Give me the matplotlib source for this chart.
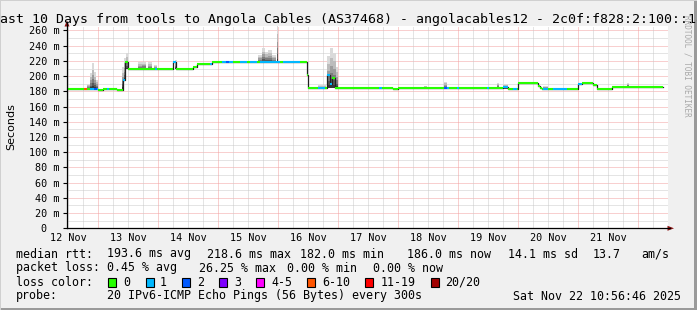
import numpy as np
import matplotlib
matplotlib.use("Agg")
import matplotlib.pyplot as plt
from matplotlib.patches import Rectangle, Polygon
from matplotlib.lines import Line2D

# ---------------- data ----------------
title = "Last 10 Days from tools to Angola Cables (AS37468) - angolacables12 - 2c0f:f828:2:100::18"
x_start, x_end = 12.483, 22.5          # time axis in day-of-November
day_labels = [12, 13, 14, 15, 16, 17, 18, 19, 20, 21]
y_ticks = [0, 20, 40, 60, 80, 100, 120, 140, 160, 180, 200, 220, 240, 260]

loss_colors = ['#26ff00', '#00b8ff', '#0059ff', '#7e00ff', '#ff00ff', '#ff5500', '#ff0000', '#a10000']
loss_labels = ['0', '1', '2', '3', '4-5', '6-10', '11-19', '20/20']

# median rtt (ms) step segments: start time (day), value, loss-colour index
seg_start = [12.483, 12.767, 12.817, 12.867, 12.933, 12.983, 13.000, 13.083, 13.150, 13.183,
             13.317, 13.417, 13.450, 13.492, 13.950, 13.983, 14.250, 14.300, 14.583, 14.650,
             14.867, 14.900, 15.067, 15.133, 15.183, 15.250, 15.367, 15.483, 15.533, 15.650,
             15.700, 16.033, 16.083, 16.367, 16.483, 16.508, 16.667, 16.783, 16.817, 16.867,
             16.900, 16.950, 17.683, 17.733, 17.917, 18.000, 18.767, 18.817, 18.850, 18.983,
             19.017, 19.483, 19.517, 19.750, 19.833, 19.917, 19.983, 20.000, 20.333, 20.367,
             20.400, 20.417, 20.500, 20.583, 20.817, 21.000, 21.067, 21.250, 21.317, 21.567]
seg_value = [182.5, 182.5, 183.0, 183.5, 183.5, 183.5, 182.0, 183.5, 183.5, 183.5,
             182.3, 195.0, 218.5, 209.5, 209.5, 209.5, 218.5, 209.5, 211.5, 216.5,
             216.5, 218.6, 218.6, 218.6, 218.6, 218.6, 218.6, 218.6, 218.6, 218.6,
             218.6, 218.6, 218.6, 218.6, 201.5, 184.5, 184.5, 184.5, 201.0, 190.0,
             198.0, 184.5, 184.5, 184.5, 183.0, 184.5, 184.5, 184.5, 184.5, 184.5,
             184.5, 184.5, 184.5, 185.5, 183.0, 183.0, 183.0, 190.7, 187.5, 185.0,
             183.0, 183.0, 183.0, 183.0, 183.0, 189.6, 190.7, 188.0, 183.0, 186.0]
seg_loss = [0, 5, 0, 1, 2, 1, 0, 0, 1, 0,
            0, 1, 0, 0, 1, 0, 1, 0, 0, 0,
            1, 0, 1, 2, 1, 0, 1, 0, 1, 0,
            1, 0, 1, 0, 0, 0, 1, 0, 1, 1,
            0, 0, 1, 0, 0, 0, 2, 1, 0, 1,
            0, 1, 0, 1, 0, 1, 0, 0, 0, 0,
            0, 1, 0, 1, 0, 1, 0, 0, 0, 0]
data_end = 22.417

# smoke (spread of the individual pings): start, end, low, high (ms)
smoke_start = [12.817, 12.867, 12.900, 12.933, 12.967, 13.400, 13.433, 13.467, 13.667, 13.733,
               13.833, 13.933, 14.283, 15.667, 15.733, 15.783, 15.833, 15.900, 15.975, 16.083,
               16.667, 16.817, 16.867, 16.917, 16.967, 18.433, 18.767, 19.650, 19.750, 20.417,
               21.817]
smoke_end = [12.867, 12.900, 12.933, 12.967, 13.000, 13.433, 13.467, 13.500, 13.733, 13.800,
             13.900, 13.983, 14.317, 15.733, 15.783, 15.833, 15.900, 15.967, 15.992, 16.200,
             16.800, 16.867, 16.917, 16.967, 17.000, 18.483, 18.817, 19.683, 19.833, 20.500,
             21.850]
smoke_low = [183, 183, 183, 183, 183, 183, 195, 209, 209, 209,
             209, 209, 209, 218, 218, 218, 218, 218, 218, 218,
             184, 184, 184, 184, 184, 184, 184, 184, 183, 182.5,
             186]
smoke_high = [190, 204, 217, 205, 195, 212, 224, 230, 218, 219,
              218, 214, 221, 228, 237, 232, 234, 228, 268, 220,
              188, 226, 237, 231, 212, 187.5, 192.5, 191, 189.5, 187.5,
              190.7]

rtt_stats = ["193.6 ms avg", "218.6 ms max", "182.0 ms min", "186.0 ms now", "14.1 ms sd", "13.7", "am/s"]
loss_stats = ["0.45 % avg", "26.25 % max", "0.00 % min", "0.00 % now"]
probe_text = "20 IPv6-ICMP Echo Pings (56 Bytes) every 300s"
stamp_text = "Sat Nov 22 10:56:46 2025"

# ---------------- layout ----------------
W, H = 697, 310
def fx(x): return x / W
def fy(y): return 1 - y / H

MONO = 'DejaVu Sans Mono'
fig = plt.figure(figsize=(W / 100, H / 100), dpi=100, facecolor='#f0f0f0')

ax_left, ax_right, ax_bot, ax_top = 67, 668, 228.3, 26
ax = fig.add_axes([fx(ax_left), fy(ax_bot), (ax_right - ax_left) / W, (ax_bot - ax_top) / H])
ax.set_facecolor('white')
ax.set_xlim(x_start, x_end)
ax.set_ylim(0, (ax_bot - ax_top) / 0.7608)

# grid
dot = (0, (1, 1))
RED, GREY = '#f3a0a0', '#cacaca'
for v in range(10, 266, 10):
    ax.axhline(v, color=RED if v % 20 == 0 else GREY, lw=0.72, ls=dot, zorder=0)
for t in np.arange(12.5, 22.51, 0.25):
    ax.axvline(t, color=RED if abs(t - round(t)) < 1e-6 else GREY, lw=0.72, ls=dot, zorder=0)

# smoke
fracs = [1.0, 0.75, 0.55, 0.38, 0.22, 0.1]
shades = ['#dadada', '#bcbcbc', '#9c9c9c', '#7c7c7c', '#585858', '#363636']
s0 = np.array(smoke_start); s1 = np.array(smoke_end)
lo = np.array(smoke_low, float); hi = np.array(smoke_high, float)
for f, c in zip(fracs, shades):
    ax.bar(s0, (hi - lo) * f, width=s1 - s0, bottom=lo, align='edge', color=c, lw=0, zorder=2)

# median line: dark step line under coloured segments
xs = np.array(seg_start + [data_end])
ys = np.array(seg_value + [seg_value[-1]])
ax.step(xs, ys, where='post', color='#202020', lw=0.9, zorder=3)
ax.hlines(seg_value, seg_start, xs[1:], colors=[loss_colors[i] for i in seg_loss],
          lw=1.5, zorder=4, capstyle='butt')

# axes styling
for s in ['top', 'right', 'left', 'bottom']:
    ax.spines[s].set_visible(False)

ax.set_yticks(y_ticks)
ax.set_yticklabels([f"{v} m" if v else "0  " for v in y_ticks], fontfamily=MONO, fontsize=7.3)
ax.tick_params(axis='y', length=3, width=0.8, pad=2.5, color='black')
ax.set_xticks([d + 0.5 for d in day_labels])
ax.set_xticklabels([f"{d} Nov" for d in day_labels], fontfamily=MONO, fontsize=7.3)
ax.tick_params(axis='x', length=0, pad=3.5)

# axis lines and arrows (figure coords)
fig.add_artist(Line2D([fx(67), fx(67)], [fy(ax_bot), fy(22)], color='black', lw=0.9))
fig.add_artist(Line2D([fx(67), fx(670)], [fy(ax_bot), fy(ax_bot)], color='black', lw=0.9))
arrow_c = '#8a1010'
fig.add_artist(Polygon([[fx(64.5), fy(26.5)], [fx(69.5), fy(26.5)], [fx(67), fy(20.5)]],
                       closed=True, color=arrow_c, lw=0))
fig.add_artist(Polygon([[fx(667.5), fy(225.8)], [fx(667.5), fy(230.8)], [fx(674), fy(228.3)]],
                       closed=True, color=arrow_c, lw=0))

# title & labels
fig.text(0.5, fy(23), title, ha='center', va='baseline', fontfamily=MONO, fontsize=9.5)
fig.text(fx(11), fy(127), "Seconds", rotation=90, ha='center', va='center',
         fontfamily='DejaVu Sans', fontsize=8)
fig.text(fx(686.5), fy(66), "RRDTOOL / TOBI OETIKER", rotation=270, ha='center', va='center',
         fontfamily=MONO, fontsize=5.5, color='#a8a8a8')

# legend
fs = 8.4
base = [257.5, 271.5, 285.5, 299.5]
fig.text(fx(16), fy(base[0]), "median rtt:", fontfamily=MONO, fontsize=fs, va='baseline')
for x, s in zip([107, 207, 300, 407, 508, 593, 641], rtt_stats):
    fig.text(fx(x), fy(base[0]), s, fontfamily=MONO, fontsize=fs, va='baseline')
fig.text(fx(16), fy(base[1]), "packet loss:", fontfamily=MONO, fontsize=fs, va='baseline')
for x, s in zip([107, 199, 287, 373], loss_stats):
    fig.text(fx(x), fy(base[1]), s, fontfamily=MONO, fontsize=fs, va='baseline')
fig.text(fx(16), fy(base[2]), "loss color:", fontfamily=MONO, fontsize=fs, va='baseline')
box_x = [108, 146, 182, 219, 256, 307, 365, 431]
lab_x = [123, 160, 197, 234, 271, 322, 381, 445]
for bx, lx, c, l in zip(box_x, lab_x, loss_colors, loss_labels):
    fig.add_artist(Rectangle((fx(bx), fy(286.7)), 8 / W, 8.3 / H, facecolor=c,
                             edgecolor='black', lw=0.8, transform=fig.transFigure))
    fig.text(fx(lx), fy(base[2]), l, fontfamily=MONO, fontsize=fs, va='baseline')
fig.text(fx(16), fy(base[3]), "probe:", fontfamily=MONO, fontsize=fs, va='baseline')
fig.text(fx(107), fy(base[3]), probe_text, fontfamily=MONO, fontsize=fs, va='baseline')
fig.text(fx(513), fy(base[3]), stamp_text, fontfamily=MONO, fontsize=fs, va='baseline')

# frame shading
fig.add_artist(Rectangle((0, 0), 1, 2 / H, facecolor='#9a9a9a', lw=0, transform=fig.transFigure))
fig.add_artist(Rectangle((1 - 3 / W, 0), 3 / W, 1, facecolor='#9a9a9a', lw=0, transform=fig.transFigure))
fig.add_artist(Rectangle((0, 1 - 1 / H), 1, 1 / H, facecolor='#d0d0d0', lw=0, transform=fig.transFigure))
fig.add_artist(Rectangle((0, 0), 1 / W, 1, facecolor='#d0d0d0', lw=0, transform=fig.transFigure))

fig.savefig("out.png", dpi=100, facecolor=fig.get_facecolor())
